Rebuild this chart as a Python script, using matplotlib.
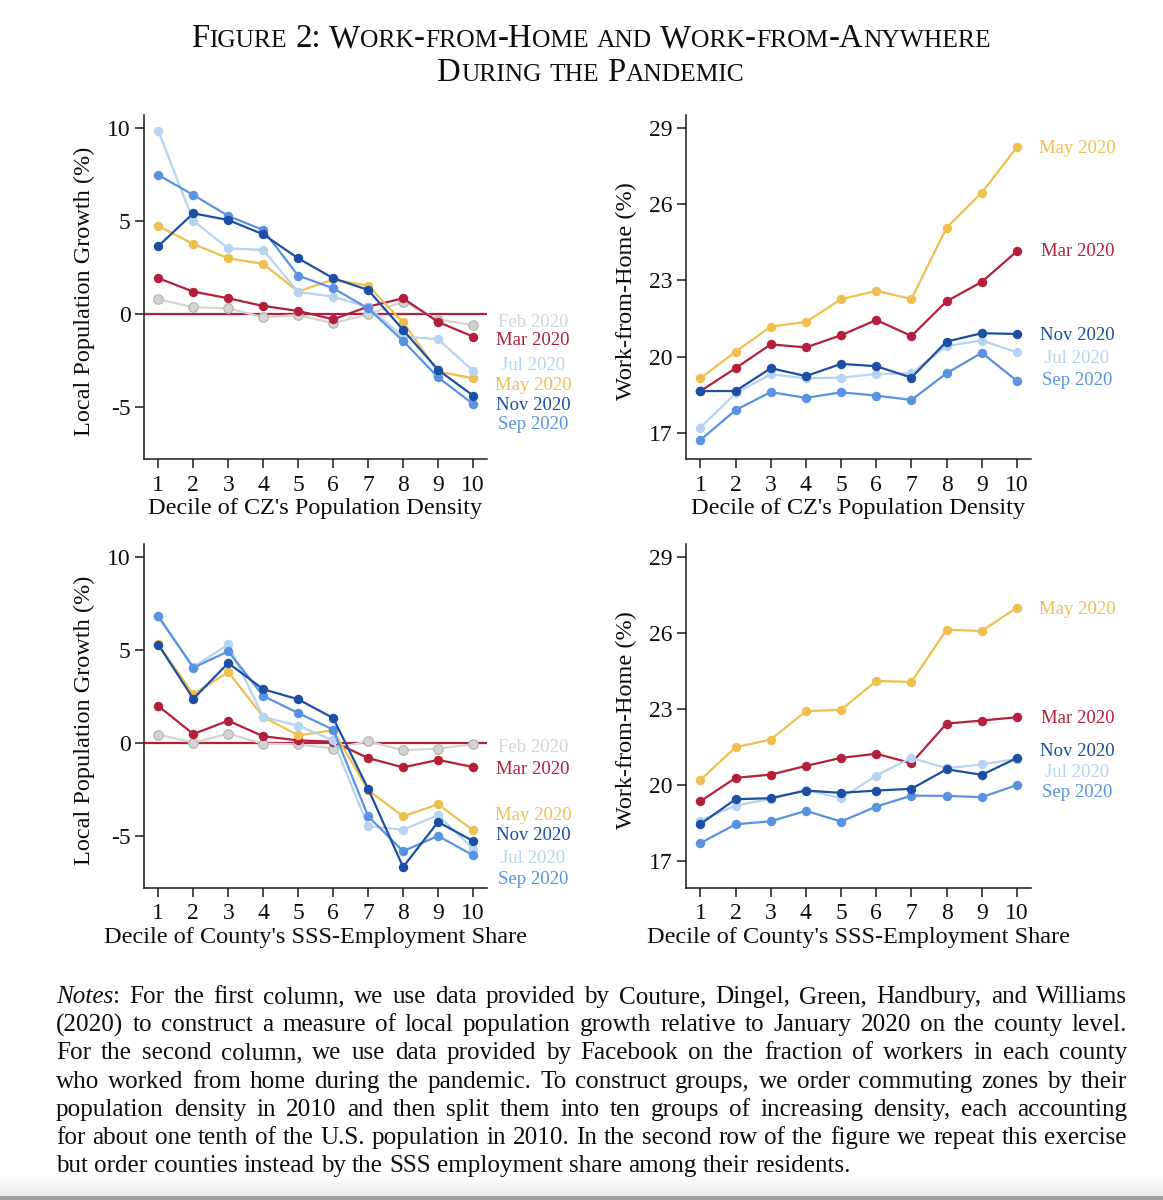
import numpy as np
import matplotlib
matplotlib.use("Agg")
import matplotlib.pyplot as plt
from matplotlib.transforms import IdentityTransform
from matplotlib.patches import Rectangle

# ─── Data ────────────────────────────────────────────────────────────────────

deciles = list(range(1, 11))
month_names = ["Feb 2020", "Mar 2020", "May 2020", "Jul 2020", "Sep 2020", "Nov 2020"]

# Row 1, left: local population growth (%) by decile of CZ population density
cz_growth_feb = [0.81, 0.38, 0.32, -0.16, -0.04, -0.48, 0.00, 0.68, -0.30, -0.57]
cz_growth_mar = [1.94, 1.22, 0.86, 0.45, 0.18, -0.27, 0.41, 0.86, -0.41, -1.20]
cz_growth_may = [4.75, 3.78, 3.01, 2.71, 1.22, 1.88, 1.54, -0.43, -3.08, -3.44]
cz_growth_jul = [9.87, 5.02, 3.55, 3.46, 1.20, 0.95, 0.38, -1.20, -1.34, -3.03]
cz_growth_sep = [7.49, 6.42, 5.29, 4.53, 2.08, 1.40, 0.32, -1.43, -3.39, -4.82]
cz_growth_nov = [3.67, 5.43, 5.07, 4.30, 3.01, 1.94, 1.31, -0.84, -2.99, -4.37]

# Row 1, right: work-from-home (%) by decile of CZ population density
cz_wfh_mar = [18.64, 19.54, 20.48, 20.36, 20.84, 21.44, 20.81, 22.18, 22.94, 24.15]
cz_wfh_may = [19.14, 20.19, 21.18, 21.36, 22.26, 22.59, 22.27, 25.08, 26.46, 28.25]
cz_wfh_jul = [17.20, 18.55, 19.30, 19.14, 19.17, 19.31, 19.34, 20.42, 20.63, 20.17]
cz_wfh_sep = [16.71, 17.89, 18.60, 18.37, 18.59, 18.46, 18.29, 19.34, 20.15, 19.04]
cz_wfh_nov = [18.64, 18.64, 19.54, 19.23, 19.71, 19.62, 19.17, 20.59, 20.92, 20.89]

# Row 2, left: local population growth (%) by decile of county SSS share
sss_growth_feb = [0.45, 0.02, 0.50, -0.04, -0.07, -0.30, 0.09, -0.39, -0.30, -0.07]
sss_growth_mar = [1.99, 0.48, 1.20, 0.36, 0.14, 0.07, -0.81, -1.31, -0.91, -1.29]
sss_growth_may = [5.30, 2.62, 3.82, 1.40, 0.41, 0.68, -2.54, -3.94, -3.30, -4.70]
sss_growth_jul = [6.81, 4.09, 5.30, 1.40, 0.93, 0.14, -4.48, -4.66, -3.89, -5.68]
sss_growth_sep = [6.81, 4.05, 4.93, 2.53, 1.61, 0.72, -3.94, -5.82, -5.00, -6.04]
sss_growth_nov = [5.29, 2.38, 4.30, 2.89, 2.35, 1.34, -2.46, -6.67, -4.25, -5.27]

# Row 2, right: work-from-home (%) by decile of county SSS share
sss_wfh_mar = [19.37, 20.29, 20.42, 20.76, 21.08, 21.24, 20.87, 22.43, 22.55, 22.68]
sss_wfh_may = [20.21, 21.50, 21.80, 22.92, 22.97, 24.11, 24.07, 26.13, 26.08, 27.00]
sss_wfh_jul = [18.61, 19.20, 19.46, 19.82, 19.49, 20.38, 21.08, 20.67, 20.82, 21.04]
sss_wfh_sep = [17.72, 18.46, 18.58, 18.99, 18.57, 19.16, 19.59, 19.58, 19.53, 20.01]
sss_wfh_nov = [18.47, 19.45, 19.49, 19.79, 19.70, 19.79, 19.86, 20.63, 20.41, 21.07]

growth_ticks = [-5, 0, 5, 10]
wfh_ticks = [17, 20, 23, 26, 29]

title_lines = ["Figure 2: Work-from-Home and Work-from-Anywhere",
               "During the Pandemic"]

notes_lines = [
    "Notes: For the first column, we use data provided by Couture, Dingel, Green, Handbury, and Williams",
    "(2020) to construct a measure of local population growth relative to January 2020 on the county level.",
    "For the second column, we use data provided by Facebook on the fraction of workers in each county",
    "who worked from home during the pandemic. To construct groups, we order commuting zones by their",
    "population density in 2010 and then split them into ten groups of increasing density, each accounting",
    "for about one tenth of the U.S. population in 2010. In the second row of the figure we repeat this exercise",
    "but order counties instead by the SSS employment share among their residents.",
]

# ─── Styling ─────────────────────────────────────────────────────────────────

COLORS = {
    "Feb 2020": "#d4d4d4",
    "Mar 2020": "#b41f3b",
    "May 2020": "#efc04f",
    "Jul 2020": "#b7d3f2",
    "Sep 2020": "#5a92e2",
    "Nov 2020": "#1c4fa4",
}
FEB_EDGE = "#b5b5b5"
INK = "#0d0d0d"

W, H, DPI = 1163, 1200, 100
plt.rcParams["font.family"] = ["Liberation Serif", "DejaVu Serif"]
plt.rcParams["axes.unicode_minus"] = False

fig = plt.figure(figsize=(W / DPI, H / DPI), dpi=DPI)
fig.patch.set_facecolor("white")
renderer = fig.canvas.get_renderer()
PX = IdentityTransform()


def text_px(x, y_img, s, **kw):
    """Place text in pixel coordinates measured from the top-left corner."""
    return fig.text(x, H - y_img, s, transform=PX, **kw)


def ink_width(s, **kw):
    t = fig.text(0, 0, s, transform=PX, **kw)
    w = t.get_window_extent(renderer).width
    t.remove()
    return w


def advance(s, **kw):
    return ink_width("|" + s + "|", **kw) - ink_width("||", **kw)


# ─── Panels ──────────────────────────────────────────────────────────────────

COL_X = [(144, 487), (686, 1031)]
ROW_Y = [(115, 459.3), (543.7, 888)]
XLIM = (0.59, 10.40)
GROWTH_LIM = (-7.80, 10.72)
WFH_LIM = (15.95, 29.52)
LABEL_X = 11.72


def make_axes(col, row):
    x0, x1 = COL_X[col]
    y0, y1 = ROW_Y[row]
    ax = fig.add_axes([x0 / W, (H - y1) / H, (x1 - x0) / W, (y1 - y0) / H])
    for side in ("top", "right"):
        ax.spines[side].set_visible(False)
    for side in ("left", "bottom"):
        ax.spines[side].set_linewidth(1.1)
        ax.spines[side].set_color("#1a1a1a")
    ax.tick_params(direction="out", length=6.5, width=1.1, color="#1a1a1a",
                   labelsize=17, labelcolor=INK)
    ax.tick_params(axis="x", pad=4.5)
    ax.tick_params(axis="y", pad=3)
    ax.set_xlim(*XLIM)
    ax.set_xticks(deciles)
    ax.set_xticklabels([str(d) for d in deciles])
    ax.patch.set_alpha(0)
    return ax


def draw_series(ax, name, values):
    color = COLORS[name]
    is_feb = name == "Feb 2020"
    ax.plot(deciles, values, color=color, lw=1.6, marker="o", ms=6.8,
            mfc=color, mec=FEB_EDGE if is_feb else color,
            mew=0.9 if is_feb else 0.0, clip_on=False, zorder=3)


def series_label(ax, name, y):
    ax.text(LABEL_X, y, name, color=COLORS[name], fontsize=13.5,
            ha="center", va="center", clip_on=False)


def axis_titles(col, row, xlabel, ylabel):
    x0, x1 = COL_X[col]
    y0, y1 = ROW_Y[row]
    text_px((x0 + x1) / 2, y1 + 49, xlabel, fontsize=17.5, ha="center",
            va="center", color=INK)
    text_px(x0 - 60, (y0 + y1) / 2 + 4, ylabel, fontsize=17.5, ha="center",
            va="center", rotation=90, color=INK)


panels = [
    (0, 0, "growth",
     [("Feb 2020", cz_growth_feb), ("Mar 2020", cz_growth_mar),
      ("May 2020", cz_growth_may), ("Jul 2020", cz_growth_jul),
      ("Sep 2020", cz_growth_sep), ("Nov 2020", cz_growth_nov)],
     {"Feb 2020": -0.43, "Mar 2020": -1.43, "Jul 2020": -2.74,
      "May 2020": -3.85, "Nov 2020": -4.93, "Sep 2020": -5.95},
     "Decile of CZ's Population Density"),
    (1, 0, "wfh",
     [("Mar 2020", cz_wfh_mar), ("May 2020", cz_wfh_may),
      ("Jul 2020", cz_wfh_jul), ("Sep 2020", cz_wfh_sep),
      ("Nov 2020", cz_wfh_nov)],
     {"May 2020": 28.21, "Mar 2020": 24.14, "Nov 2020": 20.81,
      "Jul 2020": 19.93, "Sep 2020": 19.05},
     "Decile of CZ's Population Density"),
    (0, 1, "growth",
     [("Feb 2020", sss_growth_feb), ("Mar 2020", sss_growth_mar),
      ("May 2020", sss_growth_may), ("Jul 2020", sss_growth_jul),
      ("Sep 2020", sss_growth_sep), ("Nov 2020", sss_growth_nov)],
     {"Feb 2020": -0.22, "Mar 2020": -1.42, "May 2020": -3.89,
      "Nov 2020": -5.00, "Jul 2020": -6.22, "Sep 2020": -7.33},
     "Decile of County's SSS-Employment Share"),
    (1, 1, "wfh",
     [("Mar 2020", sss_wfh_mar), ("May 2020", sss_wfh_may),
      ("Jul 2020", sss_wfh_jul), ("Sep 2020", sss_wfh_sep),
      ("Nov 2020", sss_wfh_nov)],
     {"May 2020": 26.93, "Mar 2020": 22.64, "Nov 2020": 21.34,
      "Jul 2020": 20.51, "Sep 2020": 19.72},
     "Decile of County's SSS-Employment Share"),
]

for col, row, kind, series, label_y, xlabel in panels:
    ax = make_axes(col, row)
    if kind == "growth":
        ax.set_ylim(*GROWTH_LIM)
        ax.set_yticks(growth_ticks)
        ax.set_yticklabels([str(t) for t in growth_ticks])
        ax.axhline(0, color=COLORS["Mar 2020"], lw=1.6, zorder=1)
        ylabel = "Local Population Growth (%)"
    else:
        ax.set_ylim(*WFH_LIM)
        ax.set_yticks(wfh_ticks)
        ax.set_yticklabels([str(t) for t in wfh_ticks])
        ylabel = "Work-from-Home (%)"
    for name, values in series:
        draw_series(ax, name, values)
    for name, y in label_y.items():
        series_label(ax, name, y)
    axis_titles(col, row, xlabel, ylabel)

# ─── Title in small capitals ────────────────────────────────────────────────


def caps_runs(word):
    runs = []
    for ch in word:
        small = ch.islower()
        if runs and runs[-1][1] == small:
            runs[-1][0] += ch
        else:
            runs.append([ch, small])
    return [(s.upper(), sm) for s, sm in runs]


def smallcaps_layout(line, big, small):
    words = []
    for w in line.split(" "):
        parts = []
        for s, sm in caps_runs(w):
            fs = small if sm else big
            parts.append((s, fs, advance(s, fontsize=fs)))
        words.append(parts)
    gap = advance(" ", fontsize=big)
    total = sum(p[2] for w in words for p in w) + gap * (len(words) - 1)
    return words, gap, total


big0 = 20.0
_, _, w0 = smallcaps_layout(title_lines[0], big0, big0 * 0.78)
big = big0 * 800.0 / w0
small = big * 0.78
for line, yb in zip(title_lines, [47, 81]):
    words, gap, total = smallcaps_layout(line, big, small)
    x = 591 - total / 2
    for parts in words:
        for s, fs, w in parts:
            text_px(x, yb, s, fontsize=fs, va="baseline", ha="left", color=INK)
            x += w
        x += gap

# ─── Justified notes ─────────────────────────────────────────────────────────

NOTE_LEFT, NOTE_RIGHT = 56, 1127
note_top = 1003
note_step = 28.2


def note_words(line, fs):
    words = []
    for w in line.split(" "):
        if w == "Notes:":
            parts = [("Notes", "italic"), (":", "normal")]
        else:
            parts = [(w, "normal")]
        widths = [advance(s, fontsize=fs, fontstyle=st) for s, st in parts]
        words.append((parts, widths))
    return words


fs0 = 16.0
space0 = advance(" ", fontsize=fs0)
natural = []
for line in notes_lines[:-1]:
    ws = note_words(line, fs0)
    natural.append(sum(sum(w) for _, w in ws) + space0 * (len(ws) - 1))
note_fs = min(18.6, fs0 * (NOTE_RIGHT - NOTE_LEFT) * 0.99 / max(natural))
space = advance(" ", fontsize=note_fs)

for i, line in enumerate(notes_lines):
    ws = note_words(line, note_fs)
    word_total = sum(sum(w) for _, w in ws)
    if i < len(notes_lines) - 1:
        gap = (NOTE_RIGHT - NOTE_LEFT - word_total) / (len(ws) - 1)
    else:
        gap = space
    x = NOTE_LEFT
    yb = note_top + i * note_step
    for parts, widths in ws:
        for (s, st), w in zip(parts, widths):
            text_px(x, yb, s, fontsize=note_fs, fontstyle=st, va="baseline",
                    ha="left", color=INK)
            x += w
        x += gap

# ─── Page edge at the bottom ─────────────────────────────────────────────────

band = fig.add_axes([0, 4 / H, 1, 22 / H])
band.imshow(np.linspace(1.0, 0.92, 50).reshape(-1, 1), cmap="gray",
            vmin=0, vmax=1, aspect="auto", extent=(0, 1, 0, 1))
band.axis("off")
fig.patches.append(Rectangle((0, 0), 1, 4 / H, transform=fig.transFigure,
                             facecolor="#9d9d9d", edgecolor="none"))

fig.savefig("out.png", dpi=DPI, facecolor="white")
